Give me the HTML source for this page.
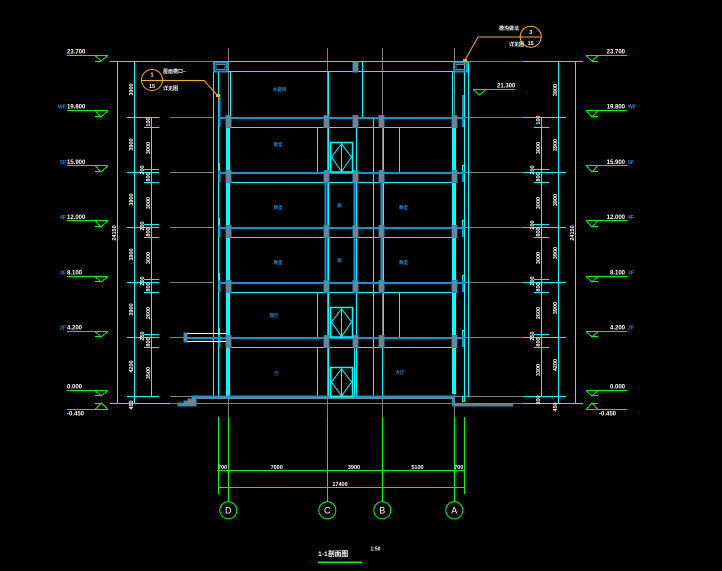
<!DOCTYPE html>
<html><head><meta charset="utf-8"><style>
html,body{margin:0;padding:0;background:#000;}
svg{display:block}
text{font-family:"Liberation Sans","Noto Sans CJK SC",sans-serif;}
.w{fill:#fff;font-size:5.5px;font-weight:bold}
.lv{fill:#fff;font-size:6px;font-weight:bold}
.tg{fill:#1a90d0;font-size:5.2px;font-weight:bold}
.rm{fill:#1a90d0;font-size:4.5px;font-weight:bold}
.cj{fill:#fff;font-size:5px;font-weight:bold}
</style></head><body>
<svg width="722" height="571" viewBox="0 0 722 571" xmlns="http://www.w3.org/2000/svg" shape-rendering="crispEdges">
<rect width="722" height="571" fill="#000"/>

<!-- gray axis & level lines -->
<g stroke="#808080" stroke-width="1" fill="none">
<path d="M228.5 48V417 M327.5 48V417 M382.5 48V417 M454.5 48V417"/>
<path d="M170 61.5H213 M468 61.5H523 M170 117.5H213 M465 117.5H523 M170 172.5H213 M465 172.5H523 M170 227.5H213 M465 227.5H523 M170 282.5H213 M465 282.5H523 M170 337.5H184 M465 337.5H523 M170 396.5H523 M170 403.5H523"/>
</g>

<!-- cyan dimension lines -->
<g stroke="#00ffff" stroke-width="1" fill="none">
<path d="M117.5 61V403 M134.5 61V403 M151.5 117V397 M110 61.5H170 M110 403.5H170"/>
<path d="M127 117.5H159 M127 172.5H159 M127 227.5H159 M127 282.5H159 M127 337.5H159 M127 396.5H159"/>
<path d="M144 127.5H159 M144 182.5H159 M144 237.5H159 M144 292.5H159 M144 347.5H159 M144 169.5H159 M144 224.5H159 M144 279.5H159 M144 334.5H159"/>
<path d="M541.5 117V397 M558.5 61V403 M575.5 61V403 M523 61.5H583 M523 403.5H583"/>
<path d="M523 117.5H566 M523 172.5H566 M523 227.5H566 M523 282.5H566 M523 337.5H566 M523 396.5H566"/>
<path d="M534 127.5H549 M534 182.5H549 M534 237.5H549 M534 292.5H549 M534 347.5H549 M534 169.5H549 M534 224.5H549 M534 279.5H549 M534 334.5H549"/>
</g>

<!-- building thin cyan -->
<g stroke="#00ffff" stroke-width="1" fill="none">
<path d="M213 61.5H468 M213 71.5H468"/>
<path d="M213.5 61V397 M218.5 72V397 M464.5 62V397 M468.5 62V397"/>
<path d="M230.5 72V117 M328.5 72V117 M362.5 62V117 M452.5 72V117"/>
<path d="M230 127.5H452 M230 182.5H452 M230 237.5H452 M230 292.5H452 M230 347.5H452"/>
<path d="M317.5 127V172 M328.5 117V172 M356.5 127V172 M373.5 117V172 M383.5 127V172 M399.5 127V172"/>
<path d="M328.5 172V282 M356.5 172V282 M373.5 172V282 M383.5 172V282"/>
<path d="M317.5 292V337 M328.5 282V337 M356.5 292V337 M373.5 282V337 M383.5 292V337 M399.5 292V337"/>
<path d="M317.5 347V396 M328.5 337V396 M354.5 347V396 M356.5 347V396 M373.5 337V396 M382.5 347V396"/>
<path d="M219.5 163V170 M219.5 218V225 M219.5 273V280 M219.5 328V335"/>
<rect x="462.5" y="165.5" width="2" height="6"/>
<rect x="462.5" y="220.5" width="2" height="6"/>
<rect x="462.5" y="275.5" width="2" height="6"/>
<rect x="462.5" y="330.5" width="2" height="6"/>
<rect x="462.5" y="396.5" width="2" height="5"/>
</g>

<!-- bright walls -->
<rect x="226" y="127" width="4" height="269" fill="#00ffff"/>
<rect x="452" y="127" width="4" height="267" fill="#00ffff"/>

<!-- blue verticals -->
<g stroke="#0a96d2" stroke-width="2" fill="none">
<path d="M325.5 172V282 M354.5 172V282 M381.5 172V282"/>
<path d="M219.5 95V127 M219.5 170V182 M219.5 225V237 M219.5 280V292 M219.5 335V347"/>
<path d="M463 95V127 M463 170V182 M463 225V237 M463 280V292 M463 335V347"/>
</g>

<!-- slabs -->
<g fill="#0a96d2">
<rect x="218" y="117" width="247" height="2"/>
<rect x="218" y="172" width="247" height="2"/>
<rect x="218" y="227" width="247" height="2"/>
<rect x="187" y="337" width="278" height="2"/>
<rect x="218" y="282" width="247" height="2"/>
<rect x="192" y="395.5" width="263" height="1.5"/>
<rect x="453" y="405" width="60" height="1.5"/>
<rect x="452" y="396" width="2" height="10"/>
</g>
<rect x="192" y="397" width="263" height="2" fill="#808080"/>
<rect x="454" y="403" width="59" height="2" fill="#808080"/>

<!-- column boxes -->
<g fill="#808080" stroke="#0a96d2" stroke-width="1">
<rect x="226" y="115.5" width="5" height="12"/><rect x="324" y="115.5" width="5" height="12"/><rect x="353" y="115.5" width="5" height="12"/><rect x="379" y="115.5" width="5" height="12"/><rect x="452" y="115.5" width="5" height="12"/>
<rect x="226" y="170.5" width="5" height="12"/><rect x="324" y="170.5" width="5" height="12"/><rect x="353" y="170.5" width="5" height="12"/><rect x="379" y="170.5" width="5" height="12"/><rect x="452" y="170.5" width="5" height="12"/>
<rect x="226" y="225.5" width="5" height="12"/><rect x="324" y="225.5" width="5" height="12"/><rect x="353" y="225.5" width="5" height="12"/><rect x="379" y="225.5" width="5" height="12"/><rect x="452" y="225.5" width="5" height="12"/>
<rect x="226" y="280.5" width="5" height="12"/><rect x="324" y="280.5" width="5" height="12"/><rect x="353" y="280.5" width="5" height="12"/><rect x="379" y="280.5" width="5" height="12"/><rect x="452" y="280.5" width="5" height="12"/>
<rect x="226" y="335.5" width="5" height="12"/><rect x="324" y="335.5" width="5" height="12"/><rect x="353" y="335.5" width="5" height="12"/><rect x="379" y="335.5" width="5" height="12"/><rect x="452" y="335.5" width="5" height="12"/>
<rect x="353" y="62" width="5" height="10"/>
<rect x="184" y="333" width="3" height="9"/>
<polygon points="196,397 196,406 178,406 178,403 184,403 184,401 188,401 188,399 192,399 192,397"/>
</g>

<!-- parapet boxes -->
<rect x="214" y="62.5" width="13" height="9" fill="none" stroke="#0a96d2" stroke-width="2"/>
<rect x="216" y="64.5" width="9" height="5" fill="none" stroke="#808080" stroke-width="1"/>
<rect x="454" y="62.5" width="13" height="9" fill="none" stroke="#0a96d2" stroke-width="2"/>
<rect x="456" y="64.5" width="9" height="5" fill="none" stroke="#808080" stroke-width="1"/>

<!-- canopy -->
<path d="M187 333.5H226 M187 341.5H226" stroke="#fff" stroke-width="1"/>

<!-- elevator doors -->
<g stroke="#00ffff" fill="none" stroke-width="1" shape-rendering="auto">
<rect x="330.5" y="142.5" width="22" height="29.5" stroke-width="1.5"/>
<path d="M341.5 143V172 M341.5 144L331.5 157L341.5 171.5L351.5 157Z"/>
<rect x="330.5" y="307.5" width="22" height="29.5" stroke-width="1.5"/>
<path d="M341.5 308V337 M341.5 309L331.5 322L341.5 336.5L351.5 322Z"/>
<rect x="330.5" y="367.5" width="22" height="29" stroke-width="1.5"/>
<path d="M341.5 368V396 M341.5 369L331.5 382L341.5 396L351.5 382Z"/>
</g>

<!-- room labels -->
<g class="rm" text-anchor="middle">
<text x="279.5" y="91">水箱间</text>
<text x="278" y="146">教室</text>
<text x="278" y="209">教室</text><text x="339.5" y="207">廊</text><text x="403.5" y="209">教室</text>
<text x="278" y="264">教室</text><text x="339.5" y="262">廊</text><text x="403.5" y="264">教室</text>
<text x="274" y="317">餐厅</text>
<text x="276.5" y="375">厅</text><text x="400" y="374">大厅</text>
</g>

<!-- level markers -->
<g stroke="#00ff00" stroke-width="1" fill="none">
<path d="M67 55.5H108 M95 55.5L101 61L108 55.5 M95 61.5H101"/>
<path d="M67 110.5H108 M95 110.5L101 117L108 110.5 M95 116.5H101"/>
<path d="M67 165.5H108 M95 165.5L101 172L108 165.5 M95 171.5H101"/>
<path d="M67 220.5H108 M95 220.5L101 227L108 220.5 M95 226.5H101"/>
<path d="M67 276.5H108 M95 276.5L101 282L108 276.5 M95 281.5H101"/>
<path d="M67 331.5H108 M95 331.5L101 337L108 331.5 M95 336.5H101"/>
<path d="M67 390.5H108 M95 390.5L101 396L108 390.5 M95 395.5H101"/>
<path d="M67 409.5H108 M95 409.5L101.5 403L108 409.5 M95 403.5H101"/>
<path d="M586 55.5H627 M586 55.5L592 61L598 55.5 M592 61.5H598"/>
<path d="M586 110.5H627 M586 110.5L592 117L598 110.5 M592 116.5H598"/>
<path d="M586 165.5H627 M586 165.5L592 172L598 165.5 M592 171.5H598"/>
<path d="M586 220.5H627 M586 220.5L592 227L598 220.5 M592 226.5H598"/>
<path d="M586 276.5H627 M586 276.5L592 282L598 276.5 M592 281.5H598"/>
<path d="M586 331.5H627 M586 331.5L592 337L598 331.5 M592 336.5H598"/>
<path d="M586 390.5H627 M586 390.5L592 396L598 390.5 M592 395.5H598"/>
<path d="M586 409.5H627 M586 409.5L592 403L598 409.5 M592 403.5H598"/>
<path d="M473 89.5H515 M473 89.5L479.5 95L486 89.5"/>
</g>
<g class="lv">
<text x="67" y="53.5">23.700</text>
<text x="67" y="108.5">19.800</text>
<text x="67" y="164">15.900</text>
<text x="67" y="219">12.000</text>
<text x="67" y="274.5">8.100</text>
<text x="67" y="329.5">4.200</text>
<text x="67" y="388.5">0.000</text>
<text x="67" y="415.5">-0.450</text>
<text x="497" y="87.5">21.300</text>
</g>
<g class="lv" text-anchor="end">
<text x="625" y="53.5">23.700</text>
<text x="625" y="108.5">19.800</text>
<text x="625" y="164">15.900</text>
<text x="625" y="219">12.000</text>
<text x="625" y="274.5">8.100</text>
<text x="625" y="329.5">4.200</text>
<text x="625" y="388.5">0.000</text>
<text x="616" y="415.5">-0.450</text>
</g>
<g class="tg" text-anchor="end">
<text x="66" y="108.5">WF</text><text x="66" y="164">5F</text><text x="66" y="219">4F</text><text x="66" y="274.5">3F</text><text x="66" y="329.5">2F</text>
</g>
<g class="tg">
<text x="628" y="108.5">WF</text><text x="628" y="164">5F</text><text x="628" y="219">4F</text><text x="628" y="274.5">3F</text><text x="628" y="329.5">2F</text>
</g>

<!-- rotated dimension texts -->
<g class="w" text-anchor="middle">
<text x="133" y="89.5" transform="rotate(-90 133 89.5)">3900</text>
<text x="133" y="144.5" transform="rotate(-90 133 144.5)">3900</text>
<text x="133" y="199.5" transform="rotate(-90 133 199.5)">3900</text>
<text x="133" y="254.5" transform="rotate(-90 133 254.5)">3900</text>
<text x="133" y="309.5" transform="rotate(-90 133 309.5)">3900</text>
<text x="133" y="366.5" transform="rotate(-90 133 366.5)">4200</text>
<text x="133" y="405" transform="rotate(-90 133 405)">450</text>
<text x="116" y="233" transform="rotate(-90 116 233)">24150</text>
<text x="150" y="122" transform="rotate(-90 150 122)">100</text>
<text x="150" y="148" transform="rotate(-90 150 148)">3000</text>
<text x="144" y="170" transform="rotate(-90 144 170)">200</text>
<text x="150" y="177" transform="rotate(-90 150 177)">800</text>
<text x="150" y="203" transform="rotate(-90 150 203)">3000</text>
<text x="144" y="226" transform="rotate(-90 144 226)">200</text>
<text x="150" y="232" transform="rotate(-90 150 232)">800</text>
<text x="150" y="258" transform="rotate(-90 150 258)">3000</text>
<text x="144" y="281" transform="rotate(-90 144 281)">200</text>
<text x="150" y="287" transform="rotate(-90 150 287)">800</text>
<text x="150" y="313" transform="rotate(-90 150 313)">2600</text>
<text x="144" y="336" transform="rotate(-90 144 336)">250</text>
<text x="150" y="342" transform="rotate(-90 150 342)">800</text>
<text x="150" y="373" transform="rotate(-90 150 373)">3500</text>

<text x="557" y="90" transform="rotate(-90 557 90)">3900</text>
<text x="557" y="145" transform="rotate(-90 557 145)">3900</text>
<text x="557" y="200" transform="rotate(-90 557 200)">3900</text>
<text x="557" y="253" transform="rotate(-90 557 253)">3900</text>
<text x="557" y="308" transform="rotate(-90 557 308)">3900</text>
<text x="557" y="365" transform="rotate(-90 557 365)">4200</text>
<text x="557" y="407" transform="rotate(-90 557 407)">450</text>
<text x="574" y="233" transform="rotate(-90 574 233)">24150</text>
<text x="540" y="120" transform="rotate(-90 540 120)">100</text>
<text x="540" y="148" transform="rotate(-90 540 148)">3000</text>
<text x="534" y="170" transform="rotate(-90 534 170)">200</text>
<text x="540" y="177" transform="rotate(-90 540 177)">800</text>
<text x="540" y="203" transform="rotate(-90 540 203)">3000</text>
<text x="534" y="225" transform="rotate(-90 534 225)">200</text>
<text x="540" y="232" transform="rotate(-90 540 232)">800</text>
<text x="540" y="258" transform="rotate(-90 540 258)">3000</text>
<text x="534" y="281" transform="rotate(-90 534 281)">200</text>
<text x="540" y="287" transform="rotate(-90 540 287)">800</text>
<text x="540" y="313" transform="rotate(-90 540 313)">2600</text>
<text x="534" y="336" transform="rotate(-90 534 336)">250</text>
<text x="540" y="342" transform="rotate(-90 540 342)">800</text>
<text x="540" y="370" transform="rotate(-90 540 370)">3300</text>
<text x="540" y="400" transform="rotate(-90 540 400)">300</text>
</g>

<!-- callouts -->
<g stroke="#ffb000" stroke-width="1" fill="none" shape-rendering="auto">
<circle cx="152" cy="80" r="10.5"/>
<path d="M141.5 80.5H204L218 96"/>
<circle cx="530.7" cy="36.7" r="10.5"/>
<path d="M478 37H541.5 M478 37L465 60"/>
</g>
<rect x="216" y="94" width="4" height="3" fill="#ffb000"/>
<rect x="463" y="59" width="4" height="3" fill="#ffb000"/>
<g class="w" text-anchor="middle">
<text x="152" y="76.5">1</text><text x="152" y="87.8">15</text>
<text x="530.7" y="34">3</text><text x="530.7" y="45">15</text>
</g>
<g class="cj">
<text x="163" y="73">屋面檐口–</text>
<text x="163" y="90">详见图</text>
<text x="499" y="30">檐沟做法</text>
<text x="509" y="46">详见图</text>
</g>

<!-- bottom axis dims -->
<g stroke="#00ff00" stroke-width="1" fill="none">
<path d="M218.5 417V494 M464.5 417V494 M228.5 417V502 M327.5 417V502 M382.5 417V502 M454.5 417V502"/>
<path d="M217 470.5H465 M218 487.5H465"/>
</g>
<g stroke="#00ff00" stroke-width="1" fill="none" shape-rendering="auto">
<circle cx="228.3" cy="510.3" r="8.5"/>
<circle cx="327.3" cy="510.3" r="8.5"/>
<circle cx="382.3" cy="510.3" r="8.5"/>
<circle cx="454.3" cy="510.3" r="8.5"/>
</g>
<g class="w" text-anchor="middle">
<text x="222.5" y="469">700</text>
<text x="276.7" y="469">7000</text>
<text x="354" y="469">3900</text>
<text x="417.5" y="469">5100</text>
<text x="458.7" y="469">700</text>
<text x="340" y="486">17400</text>
</g>
<g fill="#fff" font-size="9" text-anchor="middle">
<text x="228.3" y="513.5">D</text>
<text x="327.3" y="513.5">C</text>
<text x="382.3" y="513.5">B</text>
<text x="454.3" y="513.5">A</text>
</g>

<!-- title -->
<text x="318" y="556" fill="#fff" font-size="6.8" font-weight="bold">1-1剖面图</text>
<rect x="318" y="561.5" width="44" height="1.5" fill="#00ff00"/>
<text x="370.5" y="550.5" fill="#fff" font-size="5" font-weight="bold">1:50</text>
</svg>
</body></html>
